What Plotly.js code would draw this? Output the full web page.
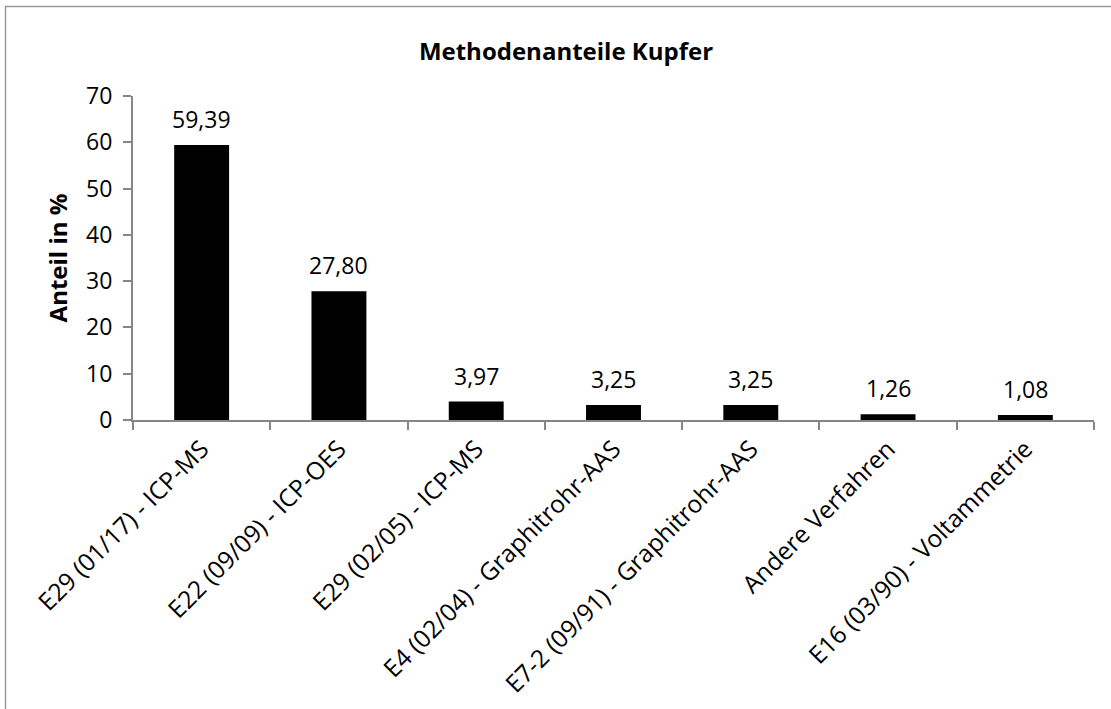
<!DOCTYPE html>
<html>
<head>
<meta charset="utf-8">
<script src="https://cdn.plot.ly/plotly-3.0.1.min.js"></script>
<style>html,body{margin:0;padding:0;background:#fff;} #chart{width:1111px;height:709px;}</style>
</head>
<body>
<div id="chart"></div>
<script>
const categories = [
  "E29 (01/17) - ICP-MS",
  "E22 (09/09) - ICP-OES",
  "E29 (02/05) - ICP-MS",
  "E4 (02/04) - Graphitrohr-AAS",
  "E7-2 (09/91) - Graphitrohr-AAS",
  "Andere Verfahren",
  "E16 (03/90) - Voltammetrie"
];
const values = [59.39, 27.80, 3.97, 3.25, 3.25, 1.26, 1.08];
const valueLabels = values.map(v => v.toFixed(2).replace('.', ','));

const W = 1111, H = 709;
const m = {l: 133, r: 17, t: 96, b: 289};
const pw = W - m.l - m.r, ph = H - m.t - m.b;
const px = x => (x - m.l) / pw;
const py = y => (H - m.b - y) / ph;

const font = "Open Sans, Lato, Liberation Sans, sans-serif";
const fs = 23;

const trace = {
  type: 'bar',
  x: categories,
  y: values,
  marker: {color: '#000', line: {width: 0}},
  width: 0.4,
  hoverinfo: 'x+y'
};

const labelAnnotations = categories.map((c, i) => ({
  x: c, y: values[i], xref: 'x', yref: 'y',
  text: valueLabels[i], showarrow: false,
  yanchor: 'bottom', xanchor: 'center', yshift: 8,
  font: {family: font, size: fs, color: '#000'}
}));

const layout = {
  width: W, height: H,
  margin: m,
  paper_bgcolor: '#fff',
  plot_bgcolor: '#fff',
  showlegend: false,
  font: {family: font, size: fs, color: '#000'},
  title: {
    text: '<b>Methodenanteile Kupfer</b>',
    font: {family: font, size: 24, color: '#000'},
    x: 566 / W, xref: 'container', xanchor: 'center',
    y: 1 - 52 / H, yref: 'container', yanchor: 'middle'
  },
  xaxis: {
    type: 'category',
    tickangle: -45,
    showline: true, linecolor: '#868686', linewidth: 2,
    ticks: 'outside', ticklen: 8, tickcolor: '#868686', tickwidth: 2,
    tickson: 'boundaries',
    showgrid: false, zeroline: false,
    tickfont: {family: font, size: 24.5, color: '#000'},
    ticklabelstandoff: 3,
    automargin: false
  },
  yaxis: {
    range: [0, 70],
    dtick: 10,
    showline: true, linecolor: '#868686', linewidth: 2,
    ticks: 'outside', ticklen: 8, tickcolor: '#868686', tickwidth: 2,
    showgrid: false, zeroline: false,
    tickfont: {family: font, size: fs, color: '#000'},
    ticklabelstandoff: 6,
    title: {text: '<b>Anteil in %</b>', font: {family: font, size: 24, color: '#000'}, standoff: 12},
    automargin: false
  },
  annotations: labelAnnotations,
  shapes: [{
    type: 'rect', xref: 'paper', yref: 'paper', layer: 'below',
    x0: px(5.5), x1: px(1125), y0: py(720), y1: py(6.5),
    line: {color: '#9a9a9a', width: 1.5}, fillcolor: 'rgba(0,0,0,0)'
  }]
};

Plotly.newPlot('chart', [trace], layout, {displayModeBar: false, staticPlot: true});
</script>
</body>
</html>
